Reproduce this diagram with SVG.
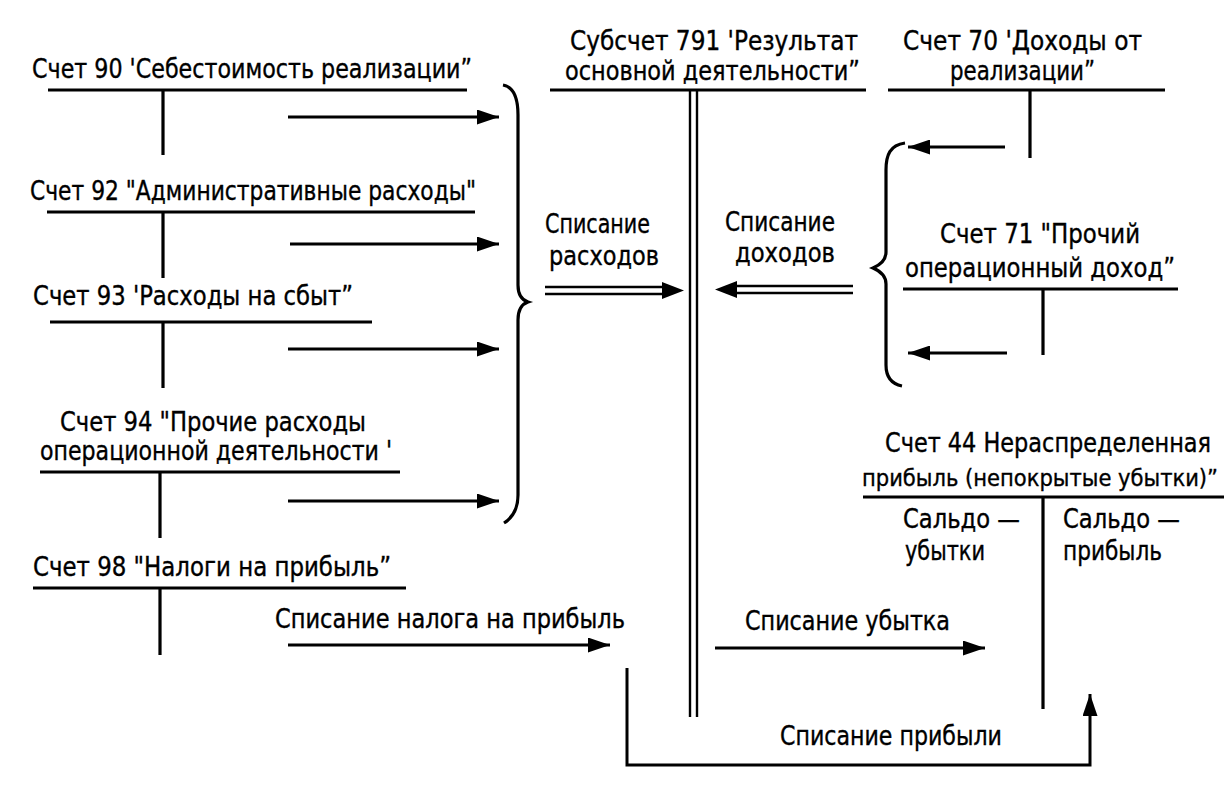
<svg xmlns="http://www.w3.org/2000/svg" width="1232" height="785" viewBox="0 0 1232 785">
<defs>
<style>
text{font-family:"DejaVu Sans Condensed","DejaVu Sans","Liberation Sans",sans-serif;font-size:26px;fill:#000;stroke:#000;stroke-width:0.35}
.t{stroke:#000;stroke-width:3.2;fill:none}
.s{stroke:#000;stroke-width:3;fill:none}
.d{stroke:#000;stroke-width:2.4;fill:none}
.h{fill:#000;stroke:none}
</style>
<marker id="ar" viewBox="0 0 22 15" refX="22" refY="7.5" markerWidth="22" markerHeight="15" markerUnits="userSpaceOnUse" orient="auto">
<path d="M0,0 L22,7.5 L0,15 Z" fill="#000"/>
</marker>
</defs>
<rect width="1232" height="785" fill="#fff"/>

<g id="acc90">
<text x="32" y="78" textLength="440" lengthAdjust="spacingAndGlyphs">Счет 90 'Себестоимость реализации”</text>
<path class="t" d="M48,90 H467 M163,90 V155"/>
</g>
<g id="acc92">
<text x="30" y="200" textLength="446" lengthAdjust="spacingAndGlyphs">Счет 92 "Административные расходы"</text>
<path class="t" d="M47,212 H475 M163,212 V278"/>
</g>
<g id="acc93">
<text x="33" y="305" textLength="320" lengthAdjust="spacingAndGlyphs">Счет 93 'Расходы на сбыт”</text>
<path class="t" d="M50,322 H372 M163,322 V388"/>
</g>
<g id="acc94">
<text x="60" y="431" textLength="306" lengthAdjust="spacingAndGlyphs">Счет 94 "Прочие расходы</text>
<text x="40" y="460" textLength="352" lengthAdjust="spacingAndGlyphs">операционной деятельности '</text>
<path class="t" d="M40,472 H400 M160,472 V538"/>
</g>
<g id="acc98">
<text x="33" y="576" textLength="358" lengthAdjust="spacingAndGlyphs">Счет 98 "Налоги на прибыль”</text>
<path class="t" d="M33,588 H406 M160,588 V655"/>
</g>
<g id="acc791">
<text x="570" y="50" textLength="288" lengthAdjust="spacingAndGlyphs">Субсчет 791 'Результат</text>
<text x="565" y="80" textLength="295" lengthAdjust="spacingAndGlyphs">основной деятельности”</text>
<path class="t" d="M550,90 H866"/>
<path class="d" d="M690,90 V717 M697,90 V717"/>
</g>
<g id="acc70">
<text x="903" y="50" textLength="239" lengthAdjust="spacingAndGlyphs">Счет 70 'Доходы от</text>
<text x="950" y="80" textLength="145" lengthAdjust="spacingAndGlyphs">реализации”</text>
<path class="t" d="M888,90 H1165 M1030,90 V158"/>
</g>
<g id="acc71">
<text x="940" y="243" textLength="200" lengthAdjust="spacingAndGlyphs">Счет 71 "Прочий</text>
<text x="905" y="277" textLength="270" lengthAdjust="spacingAndGlyphs">операционный доход”</text>
<path class="t" d="M903,289 H1178 M1043,289 V355"/>
</g>
<g id="acc44">
<text x="885" y="452" textLength="326" lengthAdjust="spacingAndGlyphs">Счет 44 Нераспределенная</text>
<text x="862" y="486" style="font-size:23.5px" textLength="356" lengthAdjust="spacingAndGlyphs">прибыль (непокрытые убытки)”</text>
<path class="t" d="M863,497 H1224 M1043,497 V709"/>
<text x="903" y="528" textLength="117" lengthAdjust="spacingAndGlyphs">Сальдо —</text>
<text x="905" y="560" textLength="80" lengthAdjust="spacingAndGlyphs">убытки</text>
<text x="1063" y="528" textLength="117" lengthAdjust="spacingAndGlyphs">Сальдо —</text>
<text x="1063" y="560" textLength="99" lengthAdjust="spacingAndGlyphs">прибыль</text>
</g>

<g id="connectors">
<path class="s" d="M288,117 H499" marker-end="url(#ar)"/>
<path class="s" d="M290,244 H499" marker-end="url(#ar)"/>
<path class="s" d="M288,349 H499" marker-end="url(#ar)"/>
<path class="s" d="M288,501 H499" marker-end="url(#ar)"/>
<path class="s" d="M288,645 H610" marker-end="url(#ar)"/>
<path class="s" d="M715,648 H985" marker-end="url(#ar)"/>
<path class="s" d="M1005,147 H908" marker-end="url(#ar)"/>
<path class="s" d="M1007,353 H908" marker-end="url(#ar)"/>
<path class="t" d="M503,85 C514,87 518,100 518,115 L518,285 C518,295 522,300 528,302 C522,304 518,310 518,320 L518,495 C518,510 512,518 504,523"/>
<path class="t" d="M905,143 C890,145 886,155 886,170 L886,252 C886,260 880,265 873,268 C880,271 886,276 886,284 L886,365 C886,378 892,384 902,386"/>
<path class="d" d="M545,287 H665 M545,294 H665"/>
<path class="h" d="M662,282 L684,290.5 L662,299 Z"/>
<path class="d" d="M853,286 H735 M853,293 H735"/>
<path class="h" d="M737,281 L715,289.5 L737,298 Z"/>
<path class="s" d="M627,668 V765 H1090 V694" marker-end="url(#ar)"/>
</g>

<g id="labels">
<text x="545" y="233" textLength="105" lengthAdjust="spacingAndGlyphs">Списание</text>
<text x="549" y="265" textLength="110" lengthAdjust="spacingAndGlyphs">расходов</text>
<text x="725" y="231" textLength="110" lengthAdjust="spacingAndGlyphs">Списание</text>
<text x="735" y="262" textLength="100" lengthAdjust="spacingAndGlyphs">доходов</text>
<text x="275" y="628" textLength="350" lengthAdjust="spacingAndGlyphs">Списание налога на прибыль</text>
<text x="745" y="630" textLength="205" lengthAdjust="spacingAndGlyphs">Списание убытка</text>
<text x="780" y="745" textLength="222" lengthAdjust="spacingAndGlyphs">Списание прибыли</text>
</g>
</svg>
